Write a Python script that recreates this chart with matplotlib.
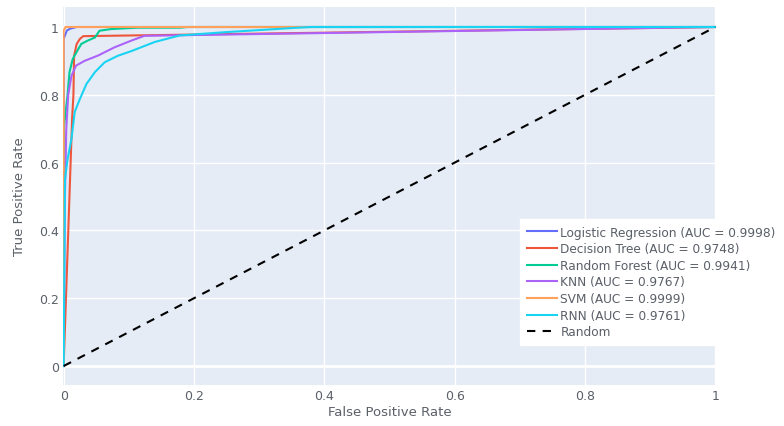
import matplotlib
matplotlib.use("Agg")
import matplotlib.pyplot as plt

plt.rcParams['font.family'] = ['DejaVu Sans']

# ROC points
lr_fpr = [0, 0, 0.002, 0.005, 0.01, 0.02, 1]
lr_tpr = [0, 0.965, 0.975, 0.99, 0.995, 1, 1]

dt_fpr = [0, 0.013, 0.015, 0.016, 0.02, 0.025, 0.03, 1]
dt_tpr = [0, 0.73, 0.8, 0.915, 0.95, 0.965, 0.973, 1]

rf_fpr = [0, 0, 0.002, 0.006, 0.009, 0.014, 0.021, 0.027, 0.037, 0.048, 0.055,
          0.073, 0.114, 0.178, 0.19, 1]
rf_tpr = [0, 0.7, 0.73, 0.80, 0.867, 0.906, 0.93, 0.95, 0.96, 0.969, 0.989,
          0.994, 0.998, 0.998, 1, 1]

knn_fpr = [0, 0.002, 0.004, 0.007, 0.012, 0.019, 0.032, 0.053, 0.078, 0.104,
           0.124, 0.19, 1]
knn_tpr = [0, 0.5, 0.7, 0.80, 0.856, 0.886, 0.90, 0.916, 0.94, 0.96, 0.974,
           0.976, 1]

svm_fpr = [0, 0, 0.003, 1]
svm_tpr = [0, 0.99, 1, 1]

rnn_fpr = [0, 0.002, 0.006, 0.012, 0.017, 0.025, 0.035, 0.048, 0.063, 0.083,
           0.104, 0.124, 0.14, 0.178, 0.25, 0.36, 0.38, 1]
rnn_tpr = [0, 0.55, 0.61, 0.67, 0.75, 0.788, 0.832, 0.867, 0.896, 0.915,
           0.929, 0.944, 0.956, 0.975, 0.985, 0.998, 1, 1]

names = ['Logistic Regression', 'Decision Tree', 'Random Forest', 'KNN', 'SVM', 'RNN']
aucs = [0.9998, 0.9748, 0.9941, 0.9767, 0.9999, 0.9761]
colors = ['#636efa', '#EF553B', '#00cc96', '#ab63fa', '#FFA15A', '#19d3f3']
curves = [(lr_fpr, lr_tpr), (dt_fpr, dt_tpr), (rf_fpr, rf_tpr),
          (knn_fpr, knn_tpr), (svm_fpr, svm_tpr), (rnn_fpr, rnn_tpr)]

ticks = [0, 0.2, 0.4, 0.6, 0.8, 1]
tick_labels = ['0', '0.2', '0.4', '0.6', '0.8', '1']

txt = '#5a5f68'

fig = plt.figure(figsize=(7.84, 4.27), dpi=100)
ax = fig.add_axes([63 / 784, 1 - 386 / 427, 653 / 784, 378 / 427])
ax.set_facecolor('#E5ECF6')

for (fx, ty), n, a, c in zip(curves, names, aucs, colors):
    ax.plot(fx, ty, color=c, lw=1.5, label=f'{n} (AUC = {a:.4f})', zorder=3)
ax.plot([0, 1], [0, 1], color='black', lw=1.5, dashes=(4, 3.5), label='Random', zorder=3)

ax.set_xlim(-0.001, 1.001)
ax.set_ylim(-0.056, 1.059)
ax.set_xticks(ticks)
ax.set_xticklabels(tick_labels)
ax.set_yticks(ticks)
ax.set_yticklabels(tick_labels)
ax.grid(color='white', lw=1, zorder=0)
ax.axhline(0, color='white', lw=2, zorder=1)
ax.set_axisbelow(True)
for s in ax.spines.values():
    s.set_visible(False)
ax.tick_params(length=0, labelsize=9, colors=txt, pad=3)
ax.set_xlabel('False Positive Rate', fontsize=9.5, color=txt, labelpad=2)
ax.set_ylabel('True Positive Rate', fontsize=9.5, color=txt, labelpad=9)

leg = ax.legend(loc='lower left', bbox_to_anchor=(520 / 784, 1 - 346 / 427),
                bbox_transform=fig.transFigure, fontsize=8.7, frameon=True,
                fancybox=False, framealpha=1, edgecolor='white', facecolor='white',
                handlelength=2.5, handletextpad=0.3, labelspacing=0.3,
                borderpad=0.55, borderaxespad=0)
for t in leg.get_texts():
    t.set_color(txt)
leg.set_zorder(5)

fig.savefig('out.png', dpi=100)
